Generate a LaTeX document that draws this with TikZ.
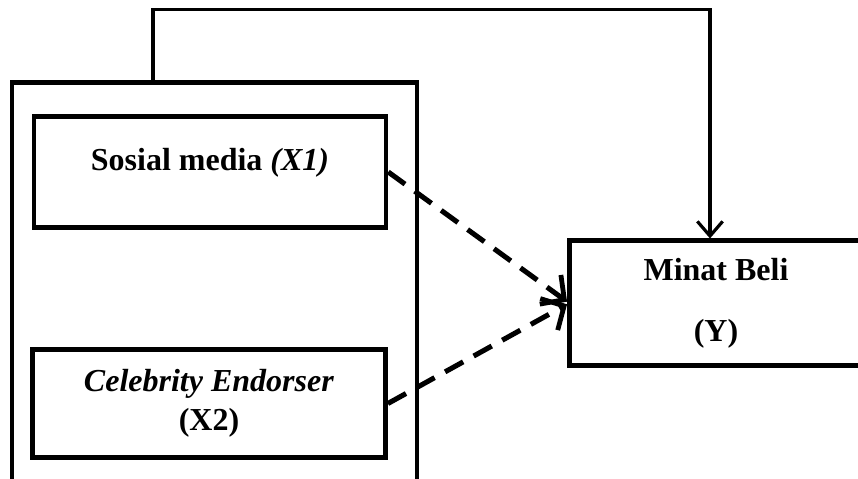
\documentclass[tikz,border=0pt]{standalone}
\usepackage{fontspec}
\setmainfont{Liberation Serif}
\usetikzlibrary{arrows.meta,positioning}
\tikzset{
    var box/.style={draw,line width=3.4pt,inner sep=0pt,align=center,
        font=\fontsize{24}{29}\selectfont\bfseries},
    group box/.style={draw,line width=3.2pt,inner sep=0pt},
    infl/.style={line width=3.8pt,dash pattern=on 15.5pt off 9pt,
        -{Straight Barb[length=13pt,width=27pt,line width=3.6pt]}},
    direct/.style={line width=2.6pt,
        -{Straight Barb[length=11pt,width=19pt,line width=2.4pt]}}
}

\begin{document}
\begin{tikzpicture}[x=0.75pt,y=-0.75pt]
    \useasboundingbox (0,0) rectangle (858,479);
    \clip (0,0) rectangle (858,479);

    % group of independent variables
    \node[group box,minimum width=303.75pt,minimum height=330pt] (frame) at (214.5,302.5) {};

    \node[var box,minimum width=264pt,minimum height=82.9pt,text depth=19pt]
        (smedia) at (210,172) {Sosial media \textit{(X1)}};
    \node[var box,minimum width=265pt,minimum height=81pt]
        (celeb) at (209,403.5) {\textit{Celebrity Endorser}\\(X2)};

    % dependent variable
    \node[var box,minimum width=220pt,minimum height=93.4pt]
        (minat) at (716,303) {Minat Beli\\[17pt](Y)};

    \draw[infl] (smedia.east) -- ([yshift=1pt]minat.west);
    \draw[infl] (celeb.east) -- ([yshift=-1pt]minat.west);

    \draw[direct] (frame.north west) ++(143,0) -- ++(0,-71)
        -| ([xshift=-4.5pt]minat.north);
\end{tikzpicture}
\end{document}
